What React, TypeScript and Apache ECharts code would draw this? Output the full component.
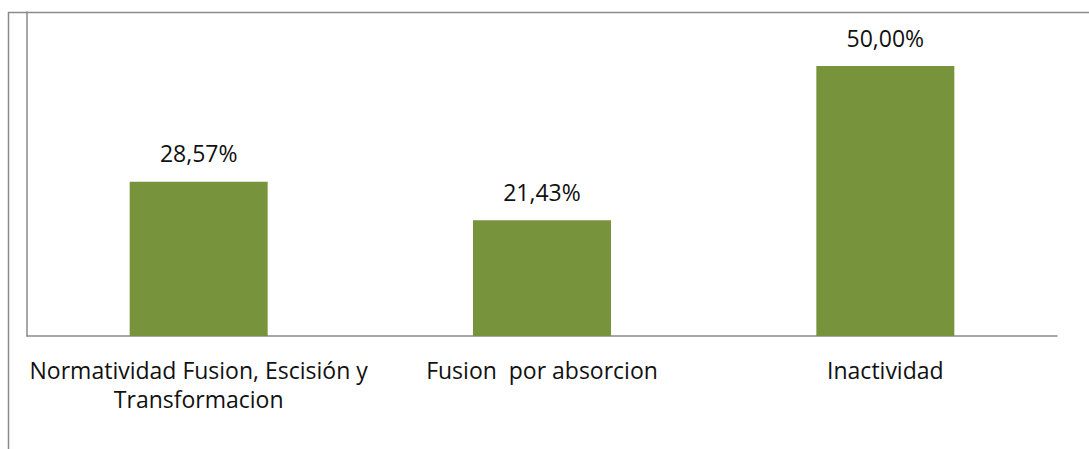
import React, { useEffect, useRef } from "react";
import * as echarts from "echarts";

const categories = [
  "Normatividad Fusion, Escisión y\nTransformacion",
  "Fusion  por absorcion",
  "Inactividad",
];
const values = [28.57, 21.43, 50.0];
const axisMax = 60;

export default function App() {
  const ref = useRef<HTMLDivElement>(null);
  useEffect(() => {
    if (!ref.current) return;
    const chart = echarts.init(ref.current, null, { renderer: "svg" });
    const font = "'Open Sans', sans-serif";
    chart.setOption({
      animation: false,
      backgroundColor: "#ffffff",
      grid: { left: 27, top: 12, width: 1030, height: 324, containLabel: false },
      xAxis: {
        type: "category",
        data: categories,
        axisLine: { show: true, lineStyle: { color: "#8a8a8a", width: 1.5 } },
        axisTick: { show: false },
        axisLabel: {
          interval: 0,
          margin: 19,
          color: "#111",
          fontFamily: font,
          fontSize: 23,
          lineHeight: 29,
          align: "center",
        },
      },
      yAxis: {
        type: "value",
        min: 0,
        max: axisMax,
        axisLine: { show: true, lineStyle: { color: "#8a8a8a", width: 1.5 } },
        axisTick: { show: false },
        axisLabel: { show: false },
        splitLine: { show: false },
      },
      series: [
        {
          type: "bar",
          data: values,
          barWidth: 138,
          itemStyle: { color: "#77933C" },
          label: {
            show: true,
            position: "top",
            distance: 17,
            color: "#111",
            fontFamily: font,
            fontSize: 23,
            formatter: (p: any) => p.value.toFixed(2).replace(".", ",") + "%",
          },
        },
      ],
      graphic: [
        {
          type: "line",
          shape: { x1: 8.5, y1: 12, x2: 8.5, y2: 449 },
          style: { stroke: "#8a8a8a", lineWidth: 1.5 },
          silent: true,
        },
        {
          type: "line",
          shape: { x1: 8, y1: 12.5, x2: 1089, y2: 12.5 },
          style: { stroke: "#8a8a8a", lineWidth: 1.5 },
          silent: true,
        },
      ],
    });
    return () => chart.dispose();
  }, []);
  return (
    <div
      ref={ref}
      style={{ position: "absolute", left: 0, top: 0, width: 1089, height: 449 }}
    />
  );
}
